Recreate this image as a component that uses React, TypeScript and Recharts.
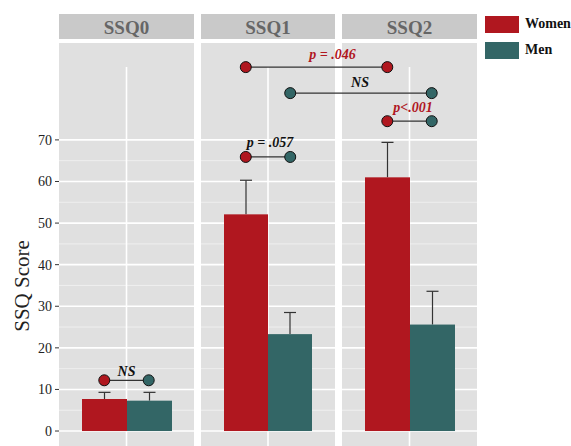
import React from 'react';
import {
  BarChart,
  Bar,
  XAxis,
  YAxis,
  CartesianGrid,
  ReferenceLine,
  ComposedChart,
  Scatter,
  Legend
} from 'recharts';

// data
const panels = ['SSQ0', 'SSQ1', 'SSQ2'];
const groups = ['Women', 'Men'];
const womenMean = [7.7, 52.1, 61.0];
const menMean = [7.3, 23.3, 25.6];
const womenErr = [1.6, 8.2, 8.4];
const menErr = [2.0, 5.2, 8.0];

const yTicks = [0, 10, 20, 30, 40, 50, 60, 70];
const yMinor = [5, 15, 25, 35, 45, 55, 65];

// significance brackets: [panel index, group index] at each end
const sigLabels = ['NS', 'p = .057', 'p = .046', 'NS', 'p<.001'];
const sigFromPanel = [0, 1, 1, 1, 2];
const sigFromGroup = [0, 0, 0, 1, 0];
const sigToPanel = [0, 1, 2, 2, 2];
const sigToGroup = [1, 1, 0, 1, 1];
const sigY = [12.2, 65.9, 87.5, 81.25, 74.5];
const sigLabelX = [0, 1.014, 1.456, 1.65, 2.025];
const sigLabelY = [13.2, 68.3, 89.4, 82.7, 76.7];
const sigSignificant = [false, false, true, false, true];

const RED = '#B0171F';
const TEAL = '#336666';
const COLORS = [RED, TEAL];
const PANEL_BG = '#E0E0E0';
const STRIP_BG = '#C9C9C9';
const FONT = "'Liberation Serif', 'Times New Roman', serif";

const W = 571;
const H = 446;
const PLOT_TOP = 43;
const Y_DOMAIN: [number, number] = [-3.6, 93.3];
const PANEL_LEFT = [59, 201, 342];
const PANEL_W = [135, 134, 135];
const AXIS_W = 59;
const DODGE = 0.157; // half bar width, in panel units of the overlay
const VLINE_TOP = 87.5;

const StripTick = (props: any) => {
  const { x, y, payload, stripWidth } = props;
  return (
    <g>
      <rect x={x - stripWidth / 2} y={y - 29} width={stripWidth} height={25} fill={STRIP_BG} />
      <text
        x={x}
        y={y - 8.7}
        textAnchor="middle"
        fontFamily={FONT}
        fontWeight="bold"
        fontSize={19}
        fill="#666666"
      >
        {payload.value}
      </text>
    </g>
  );
};

const whiskerBar = (errKey: string) => (props: any) => {
  const { x, y, width, height, fill, payload, value } = props;
  const v = Array.isArray(value) ? value[1] - value[0] : value;
  const k = v ? height / v : 0;
  const top = y - payload[errKey] * k;
  const cx = x + width / 2;
  return (
    <g>
      <line x1={cx} y1={y} x2={cx} y2={top} stroke="#333" strokeWidth={1.2} />
      <line x1={cx - 6} y1={top} x2={cx + 6} y2={top} stroke="#333" strokeWidth={1.2} />
      <rect x={x} y={y} width={width} height={height} fill={fill} />
    </g>
  );
};

const yLabel = (p: any) => {
  const vb = p.viewBox || { x: 0, y: PLOT_TOP };
  const lx = vb.x + 29;
  const ly = 286;
  return (
    <text
      x={lx}
      y={ly}
      transform={`rotate(-90 ${lx} ${ly})`}
      textAnchor="middle"
      fontFamily={FONT}
      fontSize={21}
      fill="#222"
    >
      SSQ Score
    </text>
  );
};

const Panel: React.FC<{ index: number }> = ({ index }) => {
  const first = index === 0;
  const data = [
    {
      panel: panels[index],
      Women: womenMean[index],
      Men: menMean[index],
      WomenErr: womenErr[index],
      MenErr: menErr[index]
    }
  ];
  const left = first ? 0 : PANEL_LEFT[index];
  const width = PANEL_W[index] + (first ? AXIS_W : 0);
  return (
    <div style={{ position: 'absolute', left, top: 0 }}>
      <BarChart
        width={width}
        height={H}
        data={data}
        margin={{ top: 14, right: 0, bottom: 0, left: 0 }}
        barGap={0}
        barCategoryGap={23}
      >
        <CartesianGrid horizontal={false} vertical={false} fill={PANEL_BG} />
        <XAxis
          dataKey="panel"
          orientation="top"
          height={29}
          axisLine={false}
          tickLine={false}
          tickSize={0}
          tickMargin={0}
          tick={<StripTick stripWidth={PANEL_W[index]} />}
        />
        <YAxis
          hide={!first}
          width={AXIS_W}
          type="number"
          domain={Y_DOMAIN}
          allowDataOverflow
          ticks={yTicks}
          axisLine={false}
          tickSize={4}
          tickMargin={3}
          tickLine={{ stroke: '#333' }}
          tick={{ fontFamily: FONT, fontSize: 14, fill: '#222' }}
          label={first ? { value: 'SSQ Score', content: yLabel } : undefined}
        />
        {yMinor.map((v) => (
          <ReferenceLine key={`m${v}`} y={v} stroke="#F2F2F2" strokeWidth={0.8} zIndex={-90} />
        ))}
        {yTicks.map((v) => (
          <ReferenceLine key={`t${v}`} y={v} stroke="#FFFFFF" strokeWidth={1.6} zIndex={-90} />
        ))}
        <ReferenceLine
          segment={[
            { x: panels[index], y: VLINE_TOP },
            { x: panels[index], y: Y_DOMAIN[0] }
          ]}
          stroke="#FFFFFF"
          strokeWidth={1.6}
          zIndex={-90}
        />
        <Bar dataKey="Women" fill={RED} shape={whiskerBar('WomenErr')} isAnimationActive={false} />
        <Bar dataKey="Men" fill={TEAL} shape={whiskerBar('MenErr')} isAnimationActive={false} />
      </BarChart>
    </div>
  );
};

const SigDot = (props: any) => {
  const { cx, cy, payload } = props;
  return <circle cx={cx} cy={cy} r={5.5} fill={COLORS[payload.g]} stroke="#111" strokeWidth={1} />;
};

const SigText = (props: any) => {
  const { cx, cy, payload } = props;
  return (
    <text
      x={cx}
      y={cy}
      textAnchor="middle"
      fontFamily={FONT}
      fontWeight="bold"
      fontStyle="italic"
      fontSize={14}
      fill={payload.sig ? RED : '#111'}
    >
      {payload.label}
    </text>
  );
};

const LegendBox = () => (
  <div style={{ fontFamily: FONT }}>
    {groups.map((g, i) => (
      <div key={g} style={{ display: 'flex', alignItems: 'center', height: 26 }}>
        <span style={{ display: 'inline-block', width: 34, height: 17, background: COLORS[i] }} />
        <span style={{ marginLeft: 6, fontWeight: 'bold', fontSize: 14, color: '#111' }}>{g}</span>
      </div>
    ))}
  </div>
);

const Overlay: React.FC = () => {
  const centerOf = (p: number, g: number) => p + (g === 0 ? -DODGE : DODGE);
  const labelData = sigLabels.map((label, i) => ({
    x: sigLabelX[i],
    y: sigLabelY[i],
    label,
    sig: sigSignificant[i]
  }));
  // panel centers at 126.5 + 141.5 * p
  const left = 126.5 - 0.5 * 141.5;
  const right = W - (126.5 + 2.5 * 141.5);
  return (
    <div style={{ position: 'absolute', left: 0, top: 0 }}>
      <ComposedChart width={W} height={H} margin={{ top: PLOT_TOP, right, bottom: 0, left }}>
        <XAxis dataKey="x" type="number" domain={[-0.5, 2.5]} allowDataOverflow hide />
        <YAxis dataKey="y" type="number" domain={Y_DOMAIN} allowDataOverflow hide />
        {sigLabels.map((_, i) => (
          <Scatter
            key={`b${i}`}
            data={[
              { x: centerOf(sigFromPanel[i], sigFromGroup[i]), y: sigY[i], g: sigFromGroup[i] },
              { x: centerOf(sigToPanel[i], sigToGroup[i]), y: sigY[i], g: sigToGroup[i] }
            ]}
            line={{ stroke: '#333', strokeWidth: 1.3 }}
            shape={SigDot}
            isAnimationActive={false}
          />
        ))}
        <Scatter data={labelData} shape={SigText} isAnimationActive={false} />
        <Legend
          layout="vertical"
          align="center"
          verticalAlign="middle"
          content={LegendBox}
          wrapperStyle={{ position: 'absolute', left: 485, top: 11, width: 86, height: 52 }}
        />
      </ComposedChart>
    </div>
  );
};

export default function App() {
  return (
    <div
      style={{
        position: 'absolute',
        left: 0,
        top: 0,
        width: W,
        height: H,
        overflow: 'hidden',
        background: '#fff'
      }}
    >
      {panels.map((p, i) => (
        <Panel key={p} index={i} />
      ))}
      <Overlay />
    </div>
  );
}
